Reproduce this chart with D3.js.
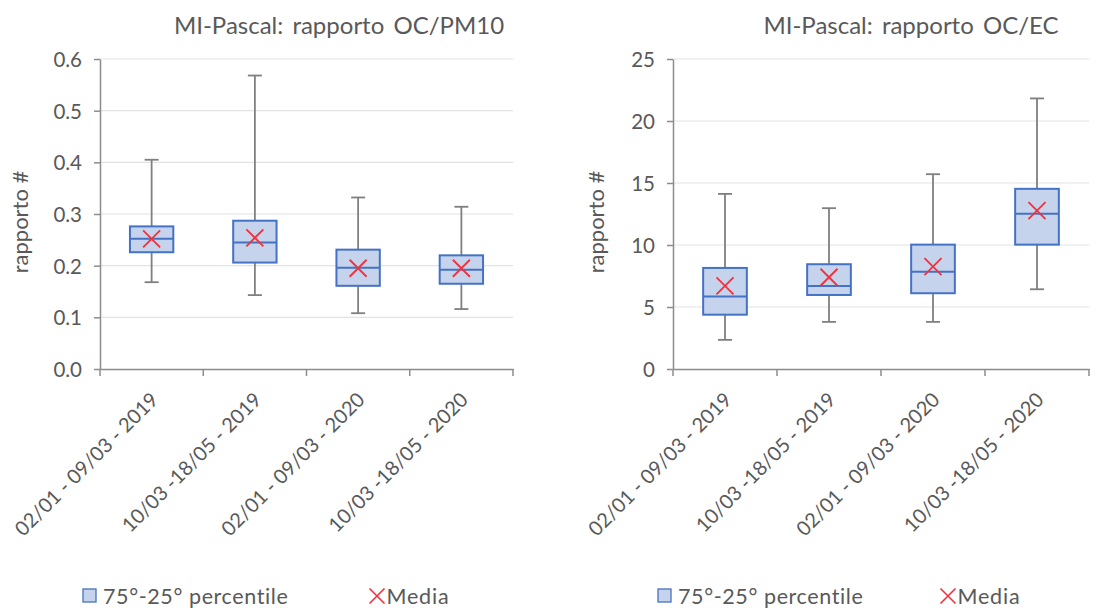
<!DOCTYPE html>
<html><head><meta charset="utf-8">
<script src="https://cdn.jsdelivr.net/npm/d3@7"></script>
<style>
body{margin:0;background:#fff;}
text{font-family:Lato,"Open Sans",sans-serif;}
</style></head>
<body><svg id="c" width="1107" height="608"></svg>
<script>
const categories = ["02/01 - 09/03 - 2019","10/03 -18/05 - 2019","02/01 - 09/03 - 2020","10/03 -18/05 - 2020"];
// OC/PM10
const pm10Min    = [0.168, 0.143, 0.108, 0.116];
const pm10Q1     = [0.226, 0.206, 0.161, 0.165];
const pm10Median = [0.252, 0.245, 0.196, 0.192];
const pm10Q3     = [0.276, 0.287, 0.231, 0.220];
const pm10Max    = [0.405, 0.568, 0.332, 0.314];
const pm10Mean   = [0.252, 0.254, 0.195, 0.195];
const pm10Ticks  = [0,0.1,0.2,0.3,0.4,0.5,0.6];
// OC/EC
const ecMin    = [2.35, 3.8, 3.8, 6.43];
const ecQ1     = [4.38, 5.97, 6.11, 10.03];
const ecMedian = [5.84, 6.70, 7.85, 12.53];
const ecQ3     = [8.15, 8.45, 10.03, 14.53];
const ecMax    = [14.12, 12.97, 15.71, 21.82];
const ecMean   = [6.70, 7.40, 8.26, 12.78];
const ecTicks  = [0,5,10,15,20,25];

const titles = ["MI-Pascal: rapporto OC/PM10","MI-Pascal: rapporto OC/EC"];
const yLabel = "rapporto #";
const legendLabels = ["75°-25° percentile","Media"];

const svg = d3.select("#c");
const textCol = "#595959";

function chart(cfg){
  const g = svg.append("g");
  const x = d3.scaleBand().domain(categories).range([cfg.x0, cfg.x1]);
  const y = d3.scaleLinear().domain([0, cfg.ymax]).range([369, 59]);
  // grid
  g.selectAll(".grid").data(cfg.ticks.slice(1)).join("line")
    .attr("x1", cfg.x0).attr("x2", cfg.x1)
    .attr("y1", d=>y(d)).attr("y2", d=>y(d))
    .attr("stroke","#e3e3e3").attr("stroke-width",1.2);
  // y axis
  const ya = g.append("g").attr("transform",`translate(${cfg.x0},0)`)
    .call(d3.axisLeft(y).tickValues(cfg.ticks).tickFormat(cfg.fmt).tickSize(6).tickPadding(12).tickSizeOuter(0));
  ya.select(".domain").attr("stroke","#8c8c8c").attr("stroke-width",1.5);
  ya.selectAll(".tick line").attr("stroke","#8c8c8c").attr("stroke-width",1.5);
  ya.selectAll(".tick text").attr("fill",textCol).style("font-size","20.5px").style("font-family","Lato").attr("dy","0.36em");
  // x axis
  const xa = g.append("g").attr("transform","translate(0,369)")
    .call(d3.axisBottom(x).tickSize(0).tickSizeOuter(0).tickPadding(0));
  xa.select(".domain").attr("stroke","#8c8c8c").attr("stroke-width",1.5);
  xa.selectAll(".tick text").remove();
  const bounds = categories.map(c=>x(c)).concat([cfg.x1]);
  g.selectAll(".xt").data(bounds).join("line")
    .attr("x1",d=>d).attr("x2",d=>d).attr("y1",369).attr("y2",376)
    .attr("stroke","#8c8c8c").attr("stroke-width",1.5);
  g.selectAll(".xl").data(categories).join("text")
    .attr("transform", d=>`translate(${x(d)+x.bandwidth()/2+3},${396}) rotate(-45)`)
    .attr("text-anchor","end").attr("dy","0.35em")
    .attr("fill",textCol).style("font-size","20px").text(d=>d);
  // boxes
  const bw = x.bandwidth()*0.42;
  const cx = i => x(categories[i]) + x.bandwidth()/2;
  const idx = d3.range(categories.length);
  g.selectAll(".wh").data(idx).join("line")
    .attr("x1",cx).attr("x2",cx).attr("y1",i=>y(cfg.max[i])).attr("y2",i=>y(cfg.min[i]))
    .attr("stroke","#7f7f7f").attr("stroke-width",1.8);
  g.selectAll(".cap").data(idx.flatMap(i=>[[i,cfg.max[i]],[i,cfg.min[i]]])).join("line")
    .attr("x1",d=>cx(d[0])-7).attr("x2",d=>cx(d[0])+7).attr("y1",d=>y(d[1])).attr("y2",d=>y(d[1]))
    .attr("stroke","#7f7f7f").attr("stroke-width",1.8);
  g.selectAll(".box").data(idx).join("rect")
    .attr("x",i=>cx(i)-bw/2).attr("width",bw)
    .attr("y",i=>y(cfg.q3[i])).attr("height",i=>y(cfg.q1[i])-y(cfg.q3[i]))
    .attr("fill","#c6d3ec").attr("stroke","#4472c4").attr("stroke-width",2);
  g.selectAll(".med").data(idx).join("line")
    .attr("x1",i=>cx(i)-bw/2).attr("x2",i=>cx(i)+bw/2)
    .attr("y1",i=>y(cfg.med[i])).attr("y2",i=>y(cfg.med[i]))
    .attr("stroke","#4472c4").attr("stroke-width",2);
  const s = 8.5;
  g.selectAll(".mean").data(idx).join("path")
    .attr("d",i=>{const X=cx(i),Y=y(cfg.mean[i]);return `M${X-s},${Y-s}L${X+s},${Y+s}M${X-s},${Y+s}L${X+s},${Y-s}`;})
    .attr("stroke","#f0323c").attr("stroke-width",1.8).attr("fill","none");
  // title
  g.append("text").attr("x",cfg.titleX).attr("y",34).attr("text-anchor","middle")
    .attr("fill",textCol).style("font-size","24px").style("word-spacing","3px").text(cfg.title);
  // y label
  g.append("text").attr("transform",`translate(${cfg.ylabX},222) rotate(-90)`)
    .attr("text-anchor","middle").attr("dy","0.35em")
    .attr("fill",textCol).style("font-size","22px").text(yLabel);
  // legend
  const lx = cfg.legX;
  g.append("rect").attr("x",lx).attr("y",589).attr("width",13).attr("height",13)
    .attr("fill","#c6d3ec").attr("stroke","#4472c4").attr("stroke-width",1.3);
  g.append("text").attr("x",lx+20).attr("y",604).attr("fill",textCol).style("font-size","21.5px").style("letter-spacing","0.6px").text(legendLabels[0]);
  const mx = lx + cfg.legGap, my = 596, m=7.5;
  g.append("path").attr("d",`M${mx-m},${my-m}L${mx+m},${my+m}M${mx-m},${my+m}L${mx+m},${my-m}`)
    .attr("stroke","#f0323c").attr("stroke-width",1.6).attr("fill","none");
  g.append("text").attr("x",mx+m+2).attr("y",604).attr("fill",textCol).style("font-size","21.5px").style("letter-spacing","0.8px").text(legendLabels[1]);
}

chart({x0:100,x1:513,ymax:0.6,ticks:pm10Ticks,fmt:d3.format(".1f"),title:titles[0],titleX:339,ylabX:20,legX:83,legGap:294,
  min:pm10Min,q1:pm10Q1,med:pm10Median,q3:pm10Q3,max:pm10Max,mean:pm10Mean});
chart({x0:673,x1:1089,ymax:25,ticks:ecTicks,fmt:d3.format("d"),title:titles[1],titleX:911,ylabX:596,legX:658,legGap:290,
  min:ecMin,q1:ecQ1,med:ecMedian,q3:ecQ3,max:ecMax,mean:ecMean});
</script></body></html>
